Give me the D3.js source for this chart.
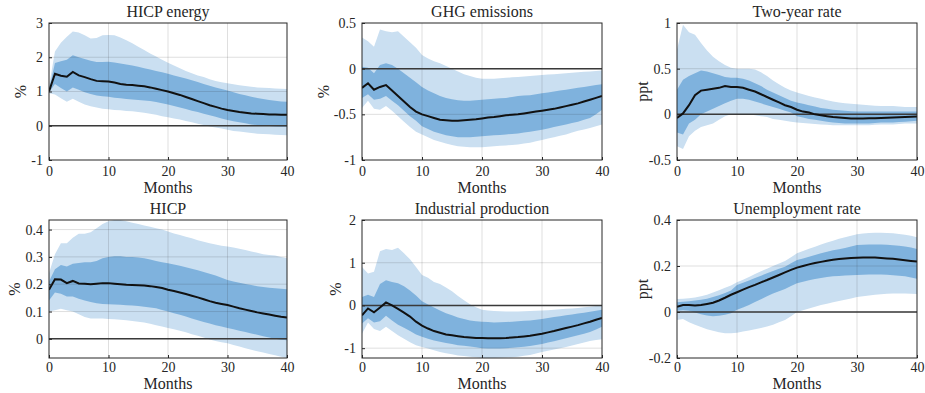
<!DOCTYPE html>
<html>
<head>
<meta charset="utf-8">
<script src="https://cdn.jsdelivr.net/npm/d3@7"></script>
<style>
  body { margin: 0; background: #fff; }
  svg { display: block; }
  text { font-family: "Liberation Serif", "Times New Roman", serif; fill: #262626; }
</style>
</head>
<body>
<div id="chart"></div>
<script>
// Horizon in months.
const months = d3.range(0, 41);

// HICP energy (%).
const energyMed = [1.00,1.52,1.46,1.43,1.57,1.47,1.42,1.36,1.31,1.30,1.29,1.26,1.22,1.20,1.19,1.17,1.15,1.12,1.08,1.04,1.00,0.95,0.90,0.84,0.78,0.72,0.66,0.60,0.55,0.50,0.46,0.43,0.40,0.38,0.36,0.35,0.34,0.33,0.33,0.32,0.32];
const energyHi68 = [1.05,1.83,1.88,1.93,2.06,2.00,1.95,1.90,1.86,1.86,1.87,1.85,1.82,1.79,1.76,1.72,1.68,1.64,1.60,1.56,1.52,1.47,1.42,1.38,1.33,1.28,1.22,1.17,1.12,1.07,1.03,0.98,0.93,0.89,0.85,0.81,0.78,0.75,0.73,0.71,0.70];
const energyLo68 = [0.98,1.22,1.10,1.00,1.12,1.05,0.98,0.93,0.88,0.86,0.85,0.82,0.80,0.78,0.77,0.75,0.74,0.72,0.69,0.66,0.62,0.58,0.53,0.49,0.44,0.40,0.35,0.31,0.26,0.21,0.17,0.13,0.10,0.07,0.04,0.02,0.00,-0.01,-0.02,-0.03,-0.03];
const energyHi90 = [1.15,2.17,2.42,2.60,2.75,2.72,2.64,2.55,2.56,2.64,2.65,2.64,2.58,2.50,2.41,2.31,2.21,2.11,2.02,1.93,1.84,1.76,1.68,1.60,1.53,1.47,1.42,1.36,1.31,1.27,1.24,1.21,1.18,1.16,1.14,1.12,1.11,1.10,1.09,1.08,1.07];
const energyLo90 = [0.95,0.91,0.80,0.70,0.79,0.70,0.62,0.57,0.53,0.50,0.48,0.46,0.45,0.43,0.42,0.40,0.38,0.35,0.32,0.28,0.25,0.21,0.18,0.14,0.10,0.06,0.02,-0.02,-0.05,-0.08,-0.12,-0.15,-0.17,-0.19,-0.21,-0.23,-0.24,-0.25,-0.26,-0.27,-0.28];

// GHG emissions (%).
const ghgMed = [-0.21,-0.16,-0.23,-0.20,-0.18,-0.24,-0.30,-0.36,-0.42,-0.47,-0.50,-0.52,-0.54,-0.56,-0.565,-0.57,-0.57,-0.565,-0.56,-0.555,-0.545,-0.535,-0.53,-0.52,-0.51,-0.505,-0.50,-0.49,-0.48,-0.47,-0.46,-0.45,-0.44,-0.425,-0.41,-0.395,-0.38,-0.36,-0.34,-0.32,-0.30];
const ghgHi68 = [0.02,0.01,-0.05,0.04,0.06,0.04,0.00,-0.05,-0.10,-0.15,-0.20,-0.24,-0.27,-0.30,-0.32,-0.335,-0.345,-0.35,-0.35,-0.345,-0.34,-0.335,-0.33,-0.325,-0.32,-0.31,-0.30,-0.295,-0.29,-0.28,-0.27,-0.26,-0.25,-0.24,-0.23,-0.22,-0.21,-0.20,-0.19,-0.18,-0.17];
const ghgLo68 = [-0.32,-0.28,-0.34,-0.33,-0.30,-0.35,-0.40,-0.46,-0.52,-0.57,-0.63,-0.66,-0.69,-0.71,-0.73,-0.74,-0.75,-0.75,-0.75,-0.745,-0.74,-0.735,-0.73,-0.725,-0.72,-0.715,-0.71,-0.70,-0.69,-0.68,-0.67,-0.655,-0.64,-0.625,-0.61,-0.595,-0.58,-0.56,-0.54,-0.50,-0.45];
const ghgHi90 = [0.34,0.30,0.24,0.43,0.41,0.40,0.41,0.35,0.29,0.23,0.15,0.11,0.08,0.06,0.03,0.00,-0.03,-0.06,-0.08,-0.10,-0.11,-0.11,-0.11,-0.105,-0.10,-0.095,-0.09,-0.085,-0.08,-0.075,-0.07,-0.065,-0.06,-0.055,-0.05,-0.045,-0.04,-0.035,-0.03,-0.025,-0.02];
const ghgLo90 = [-0.43,-0.35,-0.44,-0.45,-0.41,-0.46,-0.52,-0.58,-0.64,-0.69,-0.72,-0.75,-0.78,-0.80,-0.82,-0.835,-0.85,-0.855,-0.86,-0.86,-0.86,-0.855,-0.85,-0.845,-0.84,-0.835,-0.83,-0.82,-0.81,-0.795,-0.78,-0.765,-0.75,-0.735,-0.72,-0.70,-0.68,-0.665,-0.65,-0.63,-0.61];

// Two-year rate (ppt).
const rateMed = [-0.04,0.01,0.10,0.21,0.26,0.27,0.28,0.29,0.31,0.30,0.30,0.29,0.27,0.25,0.22,0.19,0.16,0.13,0.10,0.08,0.05,0.03,0.02,0.00,-0.01,-0.02,-0.03,-0.035,-0.04,-0.045,-0.045,-0.045,-0.044,-0.042,-0.04,-0.038,-0.035,-0.032,-0.03,-0.027,-0.025];
const rateHi68 = [0.27,0.38,0.42,0.45,0.48,0.47,0.45,0.43,0.41,0.40,0.40,0.39,0.37,0.34,0.31,0.27,0.24,0.21,0.18,0.15,0.13,0.115,0.10,0.085,0.07,0.06,0.05,0.045,0.04,0.035,0.03,0.03,0.03,0.03,0.03,0.03,0.03,0.03,0.03,0.03,0.03];
const rateLo68 = [-0.20,-0.22,-0.10,-0.06,0.00,0.03,0.06,0.09,0.12,0.15,0.17,0.17,0.16,0.14,0.12,0.10,0.08,0.06,0.04,0.02,-0.02,-0.035,-0.05,-0.06,-0.07,-0.08,-0.09,-0.095,-0.10,-0.10,-0.10,-0.10,-0.10,-0.095,-0.09,-0.09,-0.09,-0.085,-0.08,-0.075,-0.07];
const rateHi90 = [0.71,0.98,0.90,0.87,0.78,0.70,0.63,0.58,0.54,0.51,0.50,0.50,0.50,0.49,0.46,0.42,0.37,0.33,0.29,0.26,0.24,0.22,0.20,0.185,0.17,0.155,0.14,0.13,0.12,0.115,0.11,0.105,0.10,0.095,0.09,0.09,0.09,0.085,0.08,0.08,0.08];
const rateLo90 = [-0.35,-0.38,-0.24,-0.18,-0.14,-0.12,-0.10,-0.06,-0.02,0.00,0.00,0.00,0.00,-0.01,-0.02,-0.03,-0.05,-0.06,-0.07,-0.08,-0.09,-0.095,-0.10,-0.105,-0.11,-0.115,-0.12,-0.12,-0.12,-0.12,-0.12,-0.12,-0.12,-0.115,-0.11,-0.11,-0.11,-0.105,-0.10,-0.10,-0.10];

// HICP (%).
const hicpMed = [0.180,0.218,0.217,0.204,0.212,0.203,0.202,0.200,0.202,0.204,0.204,0.202,0.200,0.198,0.197,0.196,0.195,0.193,0.190,0.186,0.180,0.175,0.170,0.164,0.158,0.152,0.145,0.138,0.132,0.128,0.124,0.118,0.112,0.107,0.102,0.097,0.093,0.089,0.085,0.081,0.078];
const hicpHi68 = [0.210,0.255,0.270,0.265,0.275,0.278,0.280,0.280,0.285,0.295,0.300,0.302,0.302,0.300,0.300,0.298,0.295,0.290,0.285,0.280,0.277,0.272,0.268,0.262,0.257,0.251,0.245,0.238,0.232,0.224,0.215,0.210,0.205,0.201,0.197,0.193,0.190,0.187,0.185,0.183,0.182];
const hicpLo68 = [0.140,0.170,0.165,0.155,0.155,0.147,0.140,0.135,0.130,0.128,0.127,0.126,0.125,0.123,0.122,0.120,0.118,0.115,0.112,0.106,0.100,0.094,0.088,0.082,0.075,0.068,0.062,0.056,0.050,0.045,0.040,0.035,0.030,0.025,0.020,0.015,0.010,0.005,0.000,-0.003,-0.005];
const hicpHi90 = [0.240,0.310,0.350,0.350,0.370,0.385,0.385,0.390,0.405,0.420,0.430,0.435,0.435,0.430,0.425,0.420,0.415,0.410,0.405,0.400,0.393,0.386,0.380,0.374,0.368,0.361,0.355,0.350,0.345,0.341,0.338,0.334,0.330,0.325,0.320,0.315,0.310,0.307,0.305,0.300,0.295];
const hicpLo90 = [0.100,0.105,0.110,0.105,0.100,0.090,0.080,0.075,0.075,0.075,0.073,0.072,0.070,0.068,0.065,0.063,0.060,0.055,0.050,0.045,0.040,0.035,0.030,0.024,0.017,0.011,0.005,-0.002,-0.008,-0.012,-0.016,-0.022,-0.028,-0.034,-0.040,-0.045,-0.050,-0.055,-0.060,-0.065,-0.070];

// Industrial production (%).
const ipMed = [-0.23,-0.07,-0.16,-0.05,0.07,0.00,-0.08,-0.17,-0.26,-0.38,-0.47,-0.54,-0.60,-0.64,-0.68,-0.70,-0.72,-0.74,-0.75,-0.76,-0.76,-0.765,-0.77,-0.765,-0.76,-0.75,-0.74,-0.725,-0.71,-0.685,-0.66,-0.63,-0.60,-0.565,-0.53,-0.495,-0.46,-0.42,-0.38,-0.335,-0.29];
const ipHi68 = [0.20,0.25,0.20,0.50,0.59,0.55,0.52,0.45,0.35,0.23,0.10,0.02,-0.05,-0.12,-0.18,-0.23,-0.28,-0.32,-0.35,-0.37,-0.38,-0.39,-0.40,-0.395,-0.39,-0.38,-0.37,-0.36,-0.35,-0.335,-0.32,-0.295,-0.27,-0.25,-0.23,-0.21,-0.19,-0.17,-0.15,-0.125,-0.10];
const ipLo68 = [-0.42,-0.30,-0.40,-0.37,-0.24,-0.35,-0.45,-0.52,-0.60,-0.68,-0.73,-0.78,-0.82,-0.85,-0.88,-0.905,-0.93,-0.945,-0.96,-0.98,-1.00,-1.005,-1.01,-1.005,-1.00,-0.99,-0.98,-0.965,-0.95,-0.925,-0.90,-0.87,-0.84,-0.805,-0.77,-0.735,-0.70,-0.66,-0.62,-0.56,-0.50];
const ipHi90 = [0.90,0.75,0.79,1.27,1.32,1.30,1.35,1.22,1.08,0.90,0.71,0.65,0.55,0.50,0.42,0.33,0.22,0.12,0.03,-0.04,-0.10,-0.12,-0.13,-0.135,-0.14,-0.14,-0.14,-0.135,-0.13,-0.125,-0.12,-0.11,-0.10,-0.09,-0.08,-0.07,-0.06,-0.045,-0.03,-0.015,0.00];
const ipLo90 = [-0.66,-0.40,-0.55,-0.60,-0.50,-0.60,-0.70,-0.78,-0.86,-0.93,-0.97,-1.01,-1.05,-1.09,-1.12,-1.145,-1.17,-1.185,-1.20,-1.215,-1.23,-1.23,-1.23,-1.225,-1.22,-1.21,-1.20,-1.18,-1.16,-1.125,-1.09,-1.06,-1.03,-1.00,-0.97,-0.935,-0.90,-0.865,-0.83,-0.81,-0.79];

// Unemployment rate (ppt).
const unMed = [0.023,0.030,0.030,0.028,0.030,0.035,0.040,0.050,0.062,0.075,0.086,0.097,0.108,0.118,0.129,0.139,0.150,0.161,0.172,0.183,0.193,0.200,0.207,0.213,0.218,0.223,0.227,0.230,0.233,0.235,0.236,0.237,0.237,0.237,0.235,0.233,0.231,0.228,0.225,0.222,0.219];
const unHi68 = [0.042,0.045,0.047,0.050,0.053,0.058,0.065,0.073,0.083,0.093,0.117,0.127,0.137,0.148,0.158,0.168,0.178,0.188,0.197,0.212,0.226,0.233,0.240,0.248,0.255,0.262,0.268,0.273,0.278,0.285,0.291,0.292,0.293,0.293,0.293,0.292,0.290,0.288,0.285,0.280,0.274];
const unLo68 = [0.005,0.008,0.005,-0.002,-0.010,-0.015,-0.018,-0.016,-0.012,-0.005,0.010,0.020,0.030,0.043,0.055,0.068,0.080,0.090,0.100,0.113,0.125,0.132,0.138,0.143,0.148,0.152,0.155,0.157,0.159,0.160,0.161,0.162,0.163,0.163,0.163,0.162,0.160,0.158,0.155,0.150,0.145];
const unHi90 = [0.057,0.058,0.060,0.063,0.068,0.075,0.085,0.095,0.105,0.115,0.129,0.140,0.152,0.165,0.177,0.188,0.200,0.211,0.222,0.238,0.255,0.265,0.275,0.284,0.293,0.302,0.310,0.318,0.325,0.332,0.338,0.341,0.344,0.345,0.345,0.344,0.342,0.339,0.336,0.331,0.325];
const unLo90 = [-0.035,-0.030,-0.045,-0.055,-0.065,-0.075,-0.082,-0.088,-0.092,-0.092,-0.090,-0.085,-0.080,-0.075,-0.070,-0.063,-0.055,-0.045,-0.035,-0.018,0.000,0.008,0.015,0.023,0.030,0.036,0.042,0.048,0.053,0.059,0.065,0.069,0.072,0.075,0.077,0.079,0.080,0.080,0.080,0.079,0.078];

const xTicks = [0, 10, 20, 30, 40];

const panels = [
  {title: "HICP energy", ylab: "%", domain: [-1, 3], ticks: [-1, 0, 1, 2, 3],
   med: energyMed, hi68: energyHi68, lo68: energyLo68, hi90: energyHi90, lo90: energyLo90},
  {title: "GHG emissions", ylab: "%", domain: [-1, 0.5], ticks: [-1, -0.5, 0, 0.5],
   med: ghgMed, hi68: ghgHi68, lo68: ghgLo68, hi90: ghgHi90, lo90: ghgLo90},
  {title: "Two-year rate", ylab: "ppt", domain: [-0.5, 1], ticks: [-0.5, 0, 0.5, 1],
   med: rateMed, hi68: rateHi68, lo68: rateLo68, hi90: rateHi90, lo90: rateLo90},
  {title: "HICP", ylab: "%", domain: [-0.07, 0.435], ticks: [0, 0.1, 0.2, 0.3, 0.4],
   med: hicpMed, hi68: hicpHi68, lo68: hicpLo68, hi90: hicpHi90, lo90: hicpLo90},
  {title: "Industrial production", ylab: "%", domain: [-1.23, 2], ticks: [-1, 0, 1, 2],
   med: ipMed, hi68: ipHi68, lo68: ipLo68, hi90: ipHi90, lo90: ipLo90},
  {title: "Unemployment rate", ylab: "ppt", domain: [-0.2, 0.4], ticks: [-0.2, 0, 0.2, 0.4],
   med: unMed, hi68: unHi68, lo68: unLo68, hi90: unHi90, lo90: unLo90}
];

// Plot boxes, in pixels, for the 3x2 grid.
const cols = [[49, 287], [362, 602], [677, 917]];
const rows = [[23, 160], [220, 358]];
const ylabX = [[20, 323, 642], [14, 335, 642]];
const monthsY = [33, 31];
const xPad = [6, 4];

const width = 925, height = 393;
const lightBlue = "#cadff1";
const darkBlue = "#7fb2dd";
const ink = "#262626";

const svg = d3.select("#chart").append("svg")
    .attr("width", width)
    .attr("height", height);

const defs = svg.append("defs");

panels.forEach((p, i) => {
    const r = Math.floor(i / 3), c = i % 3;
    const [x0, x1] = cols[c];
    const [y0, y1] = rows[r];

    const x = d3.scaleLinear().domain([0, 40]).range([x0, x1]);
    const y = d3.scaleLinear().domain(p.domain).range([y1, y0]);

    const clipId = "clip" + i;
    defs.append("clipPath").attr("id", clipId)
        .append("rect")
        .attr("x", x0).attr("y", y0)
        .attr("width", x1 - x0).attr("height", y1 - y0);

    const g = svg.append("g");
    const plot = g.append("g").attr("clip-path", `url(#${clipId})`);

    const band = (lo, hi) => d3.area()
        .x((d, k) => x(months[k]))
        .y0((d, k) => y(lo[k]))
        .y1((d, k) => y(hi[k]))(months);

    plot.append("path").attr("d", band(p.lo90, p.hi90)).attr("fill", lightBlue);
    plot.append("path").attr("d", band(p.lo68, p.hi68)).attr("fill", darkBlue);

    // Grid lines on top of the bands, faint like MATLAB.
    plot.append("g")
        .selectAll("line")
        .data(xTicks.slice(1, -1))
        .join("line")
        .attr("x1", d => x(d)).attr("x2", d => x(d))
        .attr("y1", y0).attr("y2", y1)
        .attr("stroke", ink).attr("stroke-opacity", 0.15).attr("stroke-width", 1);
    plot.append("g")
        .selectAll("line")
        .data(p.ticks.filter(t => y(t) > y0 + 0.5 && y(t) < y1 - 0.5))
        .join("line")
        .attr("x1", x0).attr("x2", x1)
        .attr("y1", d => y(d)).attr("y2", d => y(d))
        .attr("stroke", ink).attr("stroke-opacity", 0.15).attr("stroke-width", 1);

    // Zero line.
    plot.append("line")
        .attr("x1", x0).attr("x2", x1)
        .attr("y1", y(0)).attr("y2", y(0))
        .attr("stroke", "#3a3a3a").attr("stroke-width", 1.5);

    // Median response.
    plot.append("path")
        .attr("d", d3.line().x((d, k) => x(months[k])).y(d => y(d))(p.med))
        .attr("fill", "none")
        .attr("stroke", "#111")
        .attr("stroke-width", 2);

    // Axes, ticks pointing inward.
    const xAxis = g.append("g")
        .attr("transform", `translate(0,${y1})`)
        .call(d3.axisBottom(x).tickValues(xTicks).tickSize(-3).tickPadding(xPad[r]));
    const yAxis = g.append("g")
        .attr("transform", `translate(${x0},0)`)
        .call(d3.axisLeft(y).tickValues(p.ticks).tickFormat(d => String(d)).tickSize(-3).tickPadding(6));
    [xAxis, yAxis].forEach(a => {
        a.select(".domain").remove();
        a.selectAll(".tick line").attr("stroke", ink);
        a.selectAll(".tick text")
            .attr("fill", ink)
            .style("font-family", '"Liberation Serif", serif')
            .style("font-size", "14px");
    });

    // Box around the plot.
    g.append("rect")
        .attr("x", x0).attr("y", y0)
        .attr("width", x1 - x0).attr("height", y1 - y0)
        .attr("fill", "none")
        .attr("stroke", ink)
        .attr("stroke-width", 1);

    // Title, axis labels.
    g.append("text")
        .attr("x", (x0 + x1) / 2)
        .attr("y", y0 - 6)
        .attr("text-anchor", "middle")
        .style("font-size", "16px")
        .attr("fill", "#000")
        .text(p.title);

    g.append("text")
        .attr("x", (x0 + x1) / 2)
        .attr("y", y1 + monthsY[r])
        .attr("text-anchor", "middle")
        .style("font-size", "16px")
        .text("Months");

    g.append("text")
        .attr("transform", `translate(${ylabX[r][c]},${(y0 + y1) / 2}) rotate(-90)`)
        .attr("text-anchor", "middle")
        .attr("dy", "0.35em")
        .style("font-size", "16px")
        .text(p.ylab);
});
</script>
</body>
</html>
